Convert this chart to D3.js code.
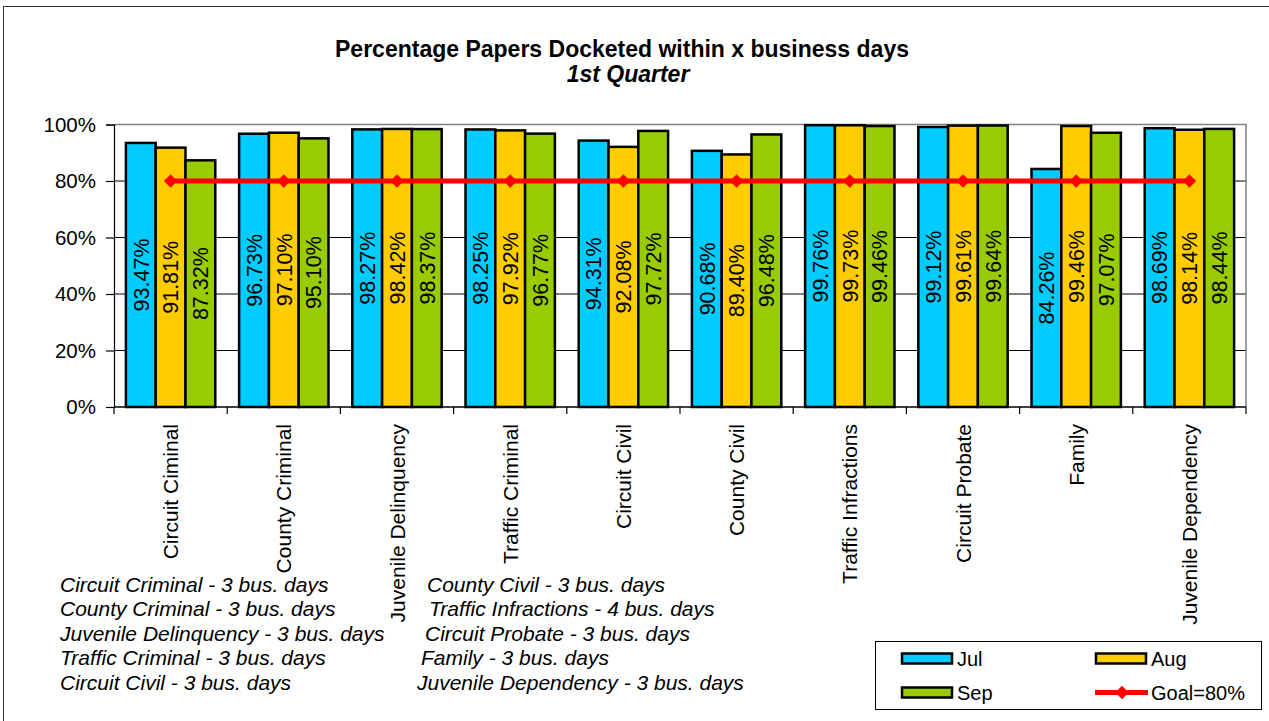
<!DOCTYPE html>
<html>
<head>
<meta charset="utf-8">
<script src="https://cdn.jsdelivr.net/npm/d3@7"></script>
<style>
  html, body { margin: 0; padding: 0; background: #fff; }
  svg { display: block; font-family: "Liberation Sans", Arial, sans-serif; }
</style>
</head>
<body>
<svg id="chart" width="1269" height="721"></svg>
<script>
// ---- data ----
const categories = ["Circuit Ciminal", "County Criminal", "Juvenile Delinquency", "Traffic Criminal",
  "Circuit Civil", "County Civil", "Traffic Infractions", "Circuit Probate", "Family", "Juvenile Dependency"];
const months = ["Jul", "Aug", "Sep"];
const julValues = [93.47, 96.73, 98.27, 98.25, 94.31, 90.68, 99.76, 99.12, 84.26, 98.69];
const augValues = [91.81, 97.10, 98.42, 97.92, 92.08, 89.40, 99.73, 99.61, 99.46, 98.14];
const sepValues = [87.32, 95.10, 98.37, 96.77, 97.72, 96.48, 99.46, 99.64, 97.07, 98.44];
const goalValue = 80;
const goalLabel = "Goal=80%";
const yTicks = [0, 20, 40, 60, 80, 100];
const titleText = "Percentage Papers Docketed within x business days";
const subtitleText = "1st Quarter";
const notesLeft = ["Circuit Criminal - 3 bus. days", "County Criminal - 3 bus. days",
  "Juvenile Delinquency - 3 bus. days", "Traffic Criminal - 3 bus. days", "Circuit Civil - 3 bus. days"];
const notesRight = ["County Civil - 3 bus. days", "Traffic Infractions - 4 bus. days",
  "Circuit Probate - 3 bus. days", "Family - 3 bus. days", "Juvenile Dependency - 3 bus. days"];

// ---- layout / style ----
const colors = { Jul: "#00CCFF", Aug: "#FFCC00", Sep: "#99CC00" };
const seriesValues = { Jul: julValues, Aug: augValues, Sep: sepValues };
const plot = { left: 114, right: 1246, top: 124.5, bottom: 407 };
const rightIndents = [427, 429, 425, 421, 417];

const svg = d3.select("#chart");

// outer border
svg.append("rect").attr("x", 3.5).attr("y", 6.5).attr("width", 1300).attr("height", 800)
  .attr("fill", "none").attr("stroke", "#333").attr("stroke-width", 1);

const x = d3.scaleBand().domain(categories).range([plot.left, plot.right]).padding(0);
const xi = d3.scaleBand().domain(months).range([0, x.bandwidth()]).paddingInner(0).paddingOuter(0.4);
const y = d3.scaleLinear().domain([0, 100]).range([plot.bottom, plot.top]);

// gridlines
svg.append("g").selectAll("line").data(yTicks.filter(t => t > 0 && t < 100)).join("line")
  .attr("x1", plot.left).attr("x2", plot.right)
  .attr("y1", d => y(d)).attr("y2", d => y(d))
  .attr("stroke", "#000").attr("stroke-width", 1);
// plot border top/right (grey)
svg.append("path")
  .attr("d", `M${plot.left},${y(100)}H${plot.right}V${plot.bottom}`)
  .attr("fill", "none").attr("stroke", "#808080").attr("stroke-width", 1.5);

// y axis
const yAxis = d3.axisLeft(y).tickValues(yTicks).tickFormat(d => d + "%").tickSize(8).tickPadding(10);
const gy = svg.append("g").attr("transform", `translate(${plot.left},0)`).call(yAxis);
gy.select(".domain").attr("stroke", "#000").attr("stroke-width", 1.2);
gy.selectAll(".tick line").attr("stroke", "#000").attr("stroke-width", 1.2);
gy.selectAll(".tick text").attr("font-size", 20.5).attr("fill", "#000")
  .attr("font-family", "Liberation Sans, Arial, sans-serif");

// bars
const rows = categories.map((c, i) => ({ cat: c, i }));
const groups = svg.append("g").selectAll("g").data(rows).join("g")
  .attr("transform", d => `translate(${x(d.cat)},0)`);
groups.selectAll("rect").data(d => months.map(m => ({ m, v: seriesValues[m][d.i] }))).join("rect")
  .attr("x", d => xi(d.m)).attr("width", xi.bandwidth())
  .attr("y", d => y(d.v)).attr("height", d => y(0) - y(d.v))
  .attr("fill", d => colors[d.m]).attr("stroke", "#000").attr("stroke-width", 2.5);
groups.selectAll("text").data(d => months.map(m => ({ m, v: seriesValues[m][d.i] }))).join("text")
  .attr("transform", d => `translate(${xi(d.m) + xi.bandwidth() / 2},${(y(d.v) + y(0)) / 2}) rotate(-90)`)
  .attr("text-anchor", "middle").attr("dy", "0.36em")
  .attr("font-size", 21.5).attr("fill", "#000")
  .text(d => d.v.toFixed(2) + "%");

// x axis
const gx = svg.append("g").attr("transform", `translate(0,${plot.bottom})`);
gx.append("line").attr("x1", plot.left).attr("x2", plot.right).attr("stroke", "#000").attr("stroke-width", 1.5);
const boundaries = categories.map(c => x(c)).concat([plot.right]);
gx.selectAll("line.tk").data(boundaries).join("line").attr("class", "tk")
  .attr("x1", d => d).attr("x2", d => d).attr("y1", 0).attr("y2", 7)
  .attr("stroke", "#000").attr("stroke-width", 1.2);
gx.selectAll("text").data(categories).join("text")
  .attr("transform", d => `translate(${x(d) + x.bandwidth() / 2},17) rotate(-90)`)
  .attr("text-anchor", "end").attr("dy", "0.36em")
  .attr("font-size", 21).attr("fill", "#000").text(d => d);

// goal line
const goalPts = categories.map(c => [x(c) + x.bandwidth() / 2, y(goalValue)]);
svg.append("path").attr("d", d3.line()(goalPts))
  .attr("fill", "none").attr("stroke", "#FF0000").attr("stroke-width", 5);
svg.append("g").selectAll("path").data(goalPts).join("path")
  .attr("d", d3.symbol(d3.symbolSquare, 90)())
  .attr("transform", d => `translate(${d[0]},${d[1]}) rotate(45)`)
  .attr("fill", "#FF0000");

// title
svg.append("text").attr("x", 622).attr("y", 57).attr("text-anchor", "middle")
  .attr("font-size", 23).attr("font-weight", "bold").text(titleText);
svg.append("text").attr("x", 628).attr("y", 82).attr("text-anchor", "middle")
  .attr("font-size", 23).attr("font-weight", "bold").attr("font-style", "italic").text(subtitleText);

// notes
svg.append("g").selectAll("text").data(notesLeft).join("text")
  .attr("x", 60).attr("y", (d, i) => 591.5 + i * 24.5)
  .attr("font-size", 21).attr("font-style", "italic").text(d => d);
svg.append("g").selectAll("text").data(notesRight).join("text")
  .attr("x", (d, i) => rightIndents[i]).attr("y", (d, i) => 591.5 + i * 24.5)
  .attr("font-size", 21).attr("font-style", "italic").text(d => d);

// legend
const lg = svg.append("g");
lg.append("rect").attr("x", 875.5).attr("y", 641.5).attr("width", 386).attr("height", 68)
  .attr("fill", "#fff").attr("stroke", "#000").attr("stroke-width", 1);
const legendItems = [
  { label: "Jul", type: "bar", color: colors.Jul, col: 0, row: 0 },
  { label: "Aug", type: "bar", color: colors.Aug, col: 1, row: 0 },
  { label: "Sep", type: "bar", color: colors.Sep, col: 0, row: 1 },
  { label: goalLabel, type: "line", color: "#FF0000", col: 1, row: 1 }
];
legendItems.forEach(it => {
  const lx = 902 + it.col * 194, ly = 658.5 + it.row * 34;
  if (it.type === "bar") {
    lg.append("rect").attr("x", lx).attr("y", ly - 5).attr("width", 50).attr("height", 10)
      .attr("fill", it.color).attr("stroke", "#000").attr("stroke-width", 2.5);
  } else {
    lg.append("line").attr("x1", lx - 1).attr("x2", lx + 52).attr("y1", ly).attr("y2", ly)
      .attr("stroke", it.color).attr("stroke-width", 5);
    lg.append("path").attr("d", d3.symbol(d3.symbolSquare, 90)())
      .attr("transform", `translate(${lx + 26},${ly}) rotate(45)`).attr("fill", it.color);
  }
  lg.append("text").attr("x", lx + 55).attr("y", ly).attr("dy", "0.36em")
    .attr("font-size", 20).text(it.label);
});
</script>
</body>
</html>
